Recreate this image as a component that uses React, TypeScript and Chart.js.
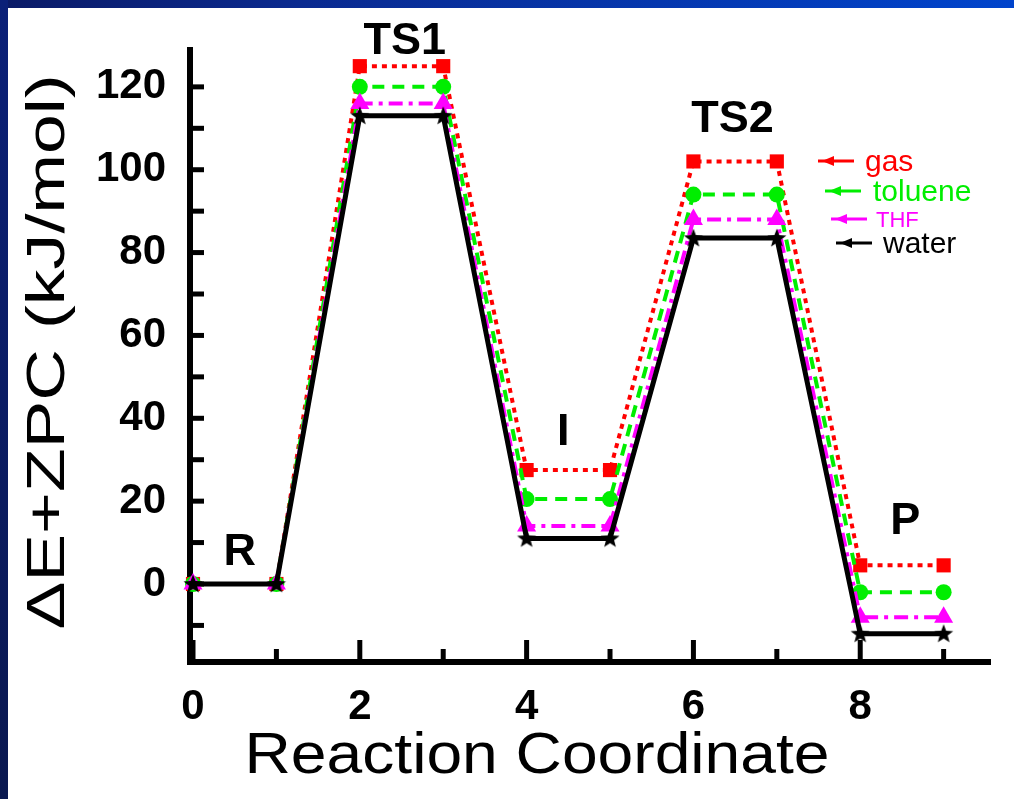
import React, { useEffect, useRef } from "react";
import { Chart, registerables } from "chart.js";

Chart.register(...registerables);

const xValues = [0, 1, 2, 3, 4, 5, 6, 7, 8, 9];
const gasValues = [0, 0, 125, 125, 27.5, 27.5, 102, 102, 4.5, 4.5];
const tolueneValues = [0, 0, 120, 120, 20.5, 20.5, 94, 94, -2, -2];
const thfValues = [0, 0, 116, 116, 14, 14, 88, 88, -8, -8];
const waterValues = [0, 0, 113, 113, 11, 11, 83.5, 83.5, -12, -12];

const seriesNames = ["gas", "toluene", "THF", "water"];
const xTickLabels = [0, 2, 4, 6, 8];
const yTickLabels = [0, 20, 40, 60, 80, 100, 120];
const xMinorTicks = [1, 3, 5, 7, 9];
const yAllTicks = [-10, 0, 10, 20, 30, 40, 50, 60, 70, 80, 90, 100, 110, 120];

const stateLabels = ["R", "TS1", "I", "TS2", "P"];
const stateLabelX = [0.56, 2.54, 4.44, 6.47, 8.54];
const stateLabelY = [7.5, 131, 36.5, 112, 15];

const FONT = "'Liberation Sans', Arial, sans-serif";

function makeStar(): HTMLCanvasElement {
  const c = document.createElement("canvas");
  c.width = 22;
  c.height = 22;
  const g = c.getContext("2d")!;
  g.fillStyle = "#000";
  g.beginPath();
  const R = 10, r = 4.2, cx = 11, cy = 11.5;
  for (let i = 0; i < 10; i++) {
    const a = -Math.PI / 2 + (i * Math.PI) / 5;
    const rad = i % 2 === 0 ? R : r;
    const px = cx + rad * Math.cos(a);
    const py = cy + rad * Math.sin(a);
    if (i === 0) g.moveTo(px, py);
    else g.lineTo(px, py);
  }
  g.closePath();
  g.fill();
  return c;
}

const decorPlugin = {
  id: "decor",
  beforeDatasetsDraw(chart: any) {
    const ctx = chart.ctx;
    const xs = chart.scales.x;
    const ys = chart.scales.y;
    const bottom = chart.chartArea.bottom;
    const left = chart.chartArea.left;
    ctx.save();
    ctx.strokeStyle = "#000";
    ctx.lineWidth = 5;
    for (const v of xTickLabels) {
      const p = xs.getPixelForValue(v);
      ctx.beginPath();
      ctx.moveTo(p, bottom);
      ctx.lineTo(p, bottom - 22);
      ctx.stroke();
    }
    for (const v of xMinorTicks) {
      const p = xs.getPixelForValue(v);
      ctx.beginPath();
      ctx.moveTo(p, bottom);
      ctx.lineTo(p, bottom - 13);
      ctx.stroke();
    }
    for (const v of yAllTicks) {
      const p = ys.getPixelForValue(v);
      ctx.beginPath();
      ctx.moveTo(left, p);
      ctx.lineTo(left + 14, p);
      ctx.stroke();
    }
    ctx.restore();
  },
  afterDraw(chart: any) {
    const ctx = chart.ctx;
    const xs = chart.scales.x;
    const ys = chart.scales.y;
    ctx.save();
    ctx.fillStyle = "#000";
    ctx.textAlign = "center";
    ctx.textBaseline = "middle";
    ctx.font = `bold 45px ${FONT}`;
    stateLabels.forEach((t, i) => {
      ctx.fillText(t, xs.getPixelForValue(stateLabelX[i]), ys.getPixelForValue(stateLabelY[i]));
    });

    const drawStretched = (text: string, cx: number, cy: number, size: number, target: number, rot: number) => {
      ctx.save();
      ctx.font = `${size}px ${FONT}`;
      const w = ctx.measureText(text).width;
      ctx.translate(cx, cy);
      ctx.rotate(rot);
      ctx.scale(target / w, 1);
      ctx.textAlign = "center";
      ctx.textBaseline = "middle";
      ctx.fillText(text, 0, 0);
      ctx.restore();
    };
    drawStretched("ΔE+ZPC (kJ/mol)", 49, 352, 54, 555, -Math.PI / 2);
    drawStretched("Reaction Coordinate", 537, 757, 58, 585, 0);

    const colors = ["#ff0000", "#00ee00", "#ff00ff", "#000000"];
    const lx = [818, 825, 831, 836];
    const ly = [161, 191, 219, 243];
    const tx = [865, 873, 876, 883];
    const sizes = [30, 30, 22, 30];
    seriesNames.forEach((name, i) => {
      ctx.strokeStyle = colors[i];
      ctx.fillStyle = colors[i];
      ctx.lineWidth = 3;
      ctx.beginPath();
      ctx.moveTo(lx[i], ly[i]);
      ctx.lineTo(lx[i] + 36, ly[i]);
      ctx.stroke();
      ctx.beginPath();
      ctx.moveTo(lx[i] + 4, ly[i]);
      ctx.lineTo(lx[i] + 16, ly[i] - 5);
      ctx.lineTo(lx[i] + 16, ly[i] + 5);
      ctx.closePath();
      ctx.fill();
      ctx.font = `${sizes[i]}px ${FONT}`;
      ctx.textAlign = "left";
      ctx.textBaseline = "middle";
      ctx.fillText(name, tx[i], ly[i] + 2);
    });
    ctx.restore();
  },
};

export default function App() {
  const ref = useRef<HTMLCanvasElement>(null);
  useEffect(() => {
    const star = makeStar();
    const chart = new Chart(ref.current!, {
      type: "line",
      data: {
        labels: xValues,
        datasets: [
          {
            label: seriesNames[0],
            data: xValues.map((x, i) => ({ x, y: gasValues[i] })),
            borderColor: "#ff0000",
            backgroundColor: "#ff0000",
            borderWidth: 4,
            borderDash: [5, 5],
            pointStyle: "rect",
            pointRadius: 10,
            pointBorderWidth: 0,
            order: 3,
            clip: false,
          },
          {
            label: seriesNames[1],
            data: xValues.map((x, i) => ({ x, y: tolueneValues[i] })),
            borderColor: "#00ee00",
            backgroundColor: "#00ee00",
            borderWidth: 4,
            borderDash: [12, 8],
            pointStyle: "circle",
            pointRadius: 8,
            pointBorderWidth: 0,
            order: 2,
            clip: false,
          },
          {
            label: seriesNames[2],
            data: xValues.map((x, i) => ({ x, y: thfValues[i] })),
            borderColor: "#ff00ff",
            backgroundColor: "#ff00ff",
            borderWidth: 4,
            borderDash: [14, 6, 4, 6],
            pointStyle: "triangle",
            pointRadius: 11,
            pointBorderWidth: 0,
            order: 1,
            clip: false,
          },
          {
            label: seriesNames[3],
            data: xValues.map((x, i) => ({ x, y: waterValues[i] })),
            borderColor: "#000000",
            backgroundColor: "#000000",
            borderWidth: 5,
            pointStyle: star,
            pointRadius: 11,
            order: 0,
            clip: false,
          },
        ],
      },
      options: {
        animation: false,
        responsive: false,
        devicePixelRatio: 1,
        layout: { padding: { left: 0, top: 50, right: 24, bottom: 0 } },
        plugins: { legend: { display: false }, tooltip: { enabled: false } },
        elements: { line: { tension: 0 } },
        scales: {
          x: {
            type: "linear",
            min: -0.036,
            max: 9.556,
            grid: { display: false, drawTicks: false },
            border: { display: true, color: "#000", width: 6 },
            ticks: {
              color: "#000",
              padding: 20,
              font: { family: FONT, weight: "bold", size: 42 },
            },
            afterBuildTicks: (s: any) => {
              s.ticks = xTickLabels.map((v) => ({ value: v }));
            },
            afterFit: (s: any) => {
              s.height = 137;
            },
          },
          y: {
            type: "linear",
            min: -18.83,
            max: 128.9,
            grid: { display: false, drawTicks: false },
            border: { display: true, color: "#000", width: 6 },
            ticks: {
              color: "#000",
              padding: 24,
              font: { family: FONT, weight: "bold", size: 42 },
            },
            afterBuildTicks: (s: any) => {
              s.ticks = yTickLabels.map((v) => ({ value: v }));
            },
            afterFit: (s: any) => {
              s.width = 190;
            },
          },
        },
      },
      plugins: [decorPlugin],
    } as any);
    return () => chart.destroy();
  }, []);

  return (
    <div style={{ position: "fixed", left: 0, top: 0, width: 1014, height: 799, background: "#fff", overflow: "hidden" }}>
      <div style={{ position: "absolute", left: 0, top: 0, width: 1014, height: 8, background: "linear-gradient(to right, #0a1a66, #0a2a90 30%, #0044cc)" }} />
      <div style={{ position: "absolute", left: 0, top: 0, width: 8, height: 799, background: "linear-gradient(to bottom, #0a2078, #0a1850)" }} />
      <canvas ref={ref} width={1014} height={799} style={{ position: "absolute", left: 0, top: 0 }} />
    </div>
  );
}
